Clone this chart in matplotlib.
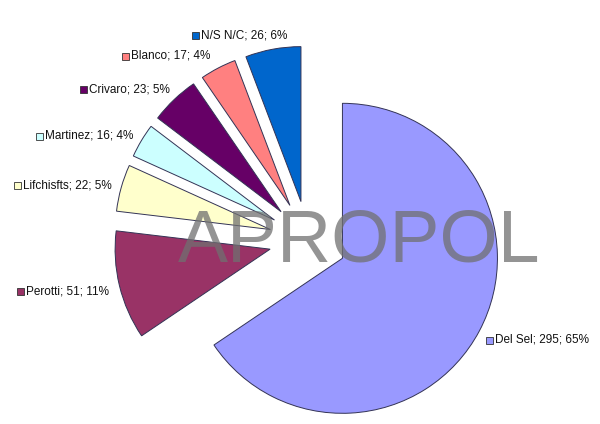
import matplotlib
matplotlib.use("Agg")
import matplotlib.pyplot as plt
from matplotlib.patches import Rectangle

plt.rcParams["font.family"] = ["Liberation Sans", "DejaVu Sans"]

# data, in pie order (clockwise from 12 o'clock)
names = ["Del Sel", "Perotti", "Lifchisfts", "Martinez", "Crivaro", "Blanco", "N/S N/C"]
votes = [295, 51, 22, 16, 23, 17, 26]
percents = [65, 11, 5, 4, 5, 4, 6]
colors = ["#9999FF", "#993366", "#FFFFCC", "#CCFFFF", "#660066", "#FF8080", "#0066CC"]

# layout in pixel units (y up), figure is 600x424
W, H = 600, 424
CENTER = (308, 184)
RADIUS = 155
EXPLODE = 39
# label anchor: left edge of the key square, vertical middle
label_pos = [(486, 84), (17, 133), (14, 239), (36, 288), (80, 335), (122, 368), (192, 389)]

fig = plt.figure(figsize=(W / 100, H / 100), dpi=100)
ax = fig.add_axes([0, 0, 1, 1])
fig.patch.set_facecolor("white")

ax.pie(votes, colors=colors, startangle=90, counterclock=False,
       center=CENTER, radius=RADIUS, explode=[EXPLODE] * len(votes),
       wedgeprops=dict(edgecolor="#333355", linewidth=0.7))

ax.set_xlim(0, W)
ax.set_ylim(0, H)
ax.set_aspect("equal")
ax.axis("off")

for name, v, p, c, (lx, ly) in zip(names, votes, percents, colors, label_pos):
    ax.add_patch(Rectangle((lx, ly - 3.5), 7, 7, facecolor=c,
                           edgecolor="#333333", linewidth=0.6, zorder=5))
    ax.text(lx + 9, ly, f"{name}; {v}; {p}%", ha="left", va="center",
            fontsize=8.5, color="#111111", zorder=5)

# watermark
ax.text(359, 162, "APROPOL", ha="center", va="baseline", fontsize=54,
        color="#707070", alpha=0.75, zorder=6)

fig.savefig("out.png", dpi=100, facecolor="white")
